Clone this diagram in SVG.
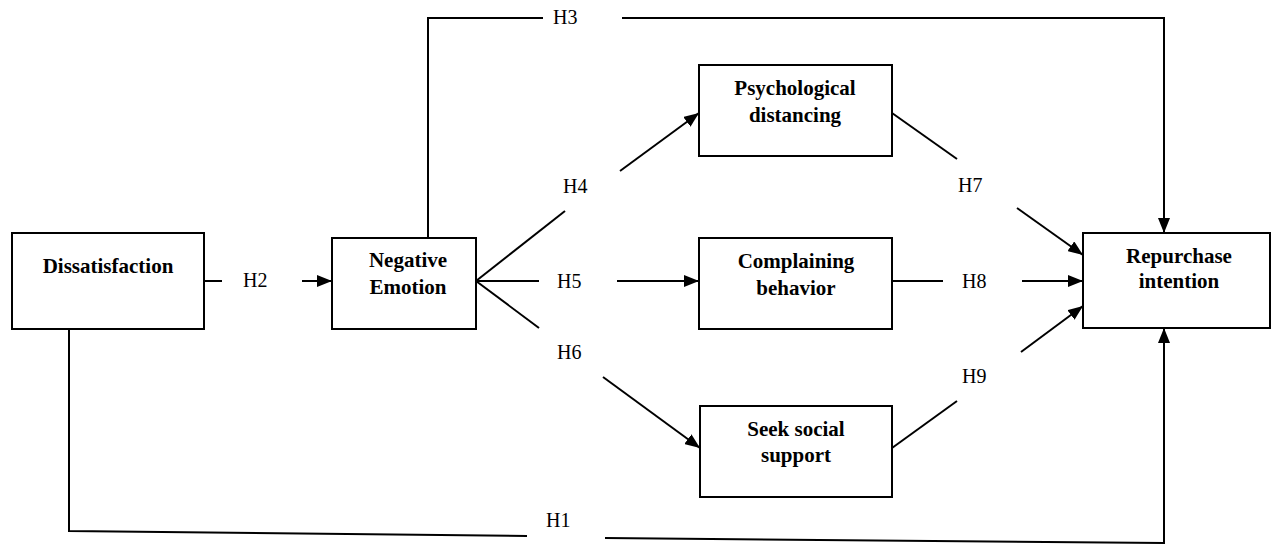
<svg xmlns="http://www.w3.org/2000/svg" width="1273" height="544" viewBox="0 0 1273 544">
<style>
.box{fill:#fff;stroke:#000;stroke-width:2}
.t{font-family:"Liberation Serif",serif;font-size:21px;font-weight:bold;text-anchor:middle;fill:#000}
.l{font-family:"Liberation Serif",serif;font-size:20px;fill:#000}
.c{fill:none;stroke:#000;stroke-width:2}
</style>
<defs>
<marker id="ah" viewBox="0 0 15 12" refX="15" refY="6" markerWidth="15" markerHeight="12" markerUnits="userSpaceOnUse" orient="auto">
<path d="M0,0 L15,6 L0,12 Z" fill="#000"/>
</marker>
</defs>
<rect width="1273" height="544" fill="#fff"/>
<g id="connectors">
<line class="c" x1="204" y1="281" x2="222" y2="281"/>
<line class="c" x1="302" y1="281" x2="332" y2="281" marker-end="url(#ah)"/>
<polyline class="c" points="428,238 428,18 543,18"/>
<polyline class="c" points="622,18 1164,18 1164,233" marker-end="url(#ah)"/>
<line class="c" x1="476" y1="281" x2="565" y2="211"/>
<line class="c" x1="620" y1="171" x2="699" y2="113" marker-end="url(#ah)"/>
<line class="c" x1="476" y1="281" x2="539" y2="281"/>
<line class="c" x1="617" y1="281" x2="699" y2="281" marker-end="url(#ah)"/>
<line class="c" x1="476" y1="281" x2="539" y2="328"/>
<line class="c" x1="603" y1="377" x2="700" y2="448" marker-end="url(#ah)"/>
<line class="c" x1="892" y1="113" x2="957" y2="159"/>
<line class="c" x1="1017" y1="208" x2="1083" y2="255" marker-end="url(#ah)"/>
<line class="c" x1="892" y1="281" x2="943" y2="281"/>
<line class="c" x1="1022" y1="281" x2="1083" y2="281" marker-end="url(#ah)"/>
<line class="c" x1="892" y1="448" x2="957" y2="401"/>
<line class="c" x1="1021" y1="352" x2="1083" y2="306" marker-end="url(#ah)"/>
<polyline class="c" points="69,329 69,531 527,536"/>
<polyline class="c" points="605,538 1164,543 1164,328" marker-end="url(#ah)"/>
<text class="l" x="243" y="287">H2</text>
<text class="l" x="553" y="24">H3</text>
<text class="l" x="563" y="193">H4</text>
<text class="l" x="557" y="288">H5</text>
<text class="l" x="557" y="359">H6</text>
<text class="l" x="958" y="192">H7</text>
<text class="l" x="962" y="288">H8</text>
<text class="l" x="962" y="383">H9</text>
<text class="l" x="546" y="527">H1</text>
</g>
<g id="dissatisfaction">
<rect class="box" x="12" y="233" width="192" height="96"/>
<text class="t" x="108" y="273">Dissatisfaction</text>
</g>
<g id="negative-emotion">
<rect class="box" x="332" y="238" width="144" height="91"/>
<text class="t" x="408" y="267">Negative</text>
<text class="t" x="408" y="294">Emotion</text>
</g>
<g id="psychological-distancing">
<rect class="box" x="699" y="65" width="193" height="91"/>
<text class="t" x="795" y="95">Psychological</text>
<text class="t" x="795" y="122">distancing</text>
</g>
<g id="complaining-behavior">
<rect class="box" x="699" y="238" width="193" height="91"/>
<text class="t" x="796" y="268">Complaining</text>
<text class="t" x="796" y="295">behavior</text>
</g>
<g id="seek-social-support">
<rect class="box" x="700" y="406" width="192" height="91"/>
<text class="t" x="796" y="436">Seek social</text>
<text class="t" x="796" y="462">support</text>
</g>
<g id="repurchase-intention">
<rect class="box" x="1083" y="233" width="187" height="95"/>
<text class="t" x="1179" y="263">Repurchase</text>
<text class="t" x="1179" y="288">intention</text>
</g>
</svg>
